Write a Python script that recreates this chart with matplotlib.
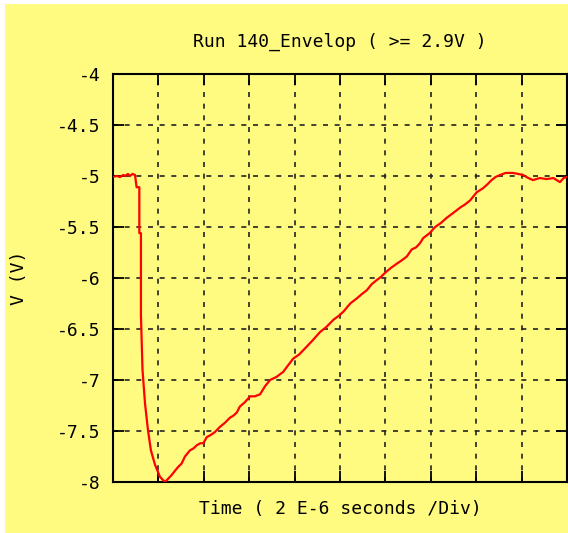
import numpy as np
import matplotlib.pyplot as plt
from matplotlib.patches import Rectangle

# time in microseconds (2 us per division), envelope voltage in volts
t_us = [0.00, 0.15, 0.31, 0.45, 0.53, 0.66, 0.75, 0.86, 0.97, 1.04,
        1.16, 1.16, 1.23, 1.23, 1.30, 1.41, 1.54, 1.67, 1.85, 2.07,
        2.29, 2.42, 2.59, 2.73, 2.88, 3.02, 3.17, 3.39, 3.55, 3.69,
        3.85, 3.98, 4.13, 4.30, 4.49, 4.71, 4.93, 5.15, 5.30, 5.45,
        5.59, 5.80, 6.04, 6.25, 6.48, 6.70, 6.92, 7.20, 7.50, 7.70,
        7.94, 8.20, 8.46, 8.80, 9.12, 9.40, 9.71, 9.95, 10.15, 10.45,
        10.74, 10.95, 11.18, 11.40, 11.62, 11.80, 11.98, 12.25, 12.50, 12.70,
        12.94, 13.16, 13.35, 13.52, 13.66, 13.95, 14.19, 14.45, 14.70, 15.00,
        15.29, 15.50, 15.73, 16.02, 16.30, 16.50, 16.68, 16.85, 17.05, 17.30,
        17.62, 17.85, 18.06, 18.30, 18.50, 18.80, 19.10, 19.40, 19.69, 19.85,
        19.99]
v_env = [-5.01, -5.00, -5.01, -4.99, -5.00, -4.98, -5.00, -4.98, -4.99, -5.11,
         -5.11, -5.56, -5.56, -6.36, -6.90, -7.23, -7.49, -7.69, -7.83, -7.95,
         -8.00, -7.97, -7.93, -7.89, -7.85, -7.82, -7.75, -7.69, -7.67, -7.64,
         -7.62, -7.62, -7.56, -7.54, -7.51, -7.46, -7.42, -7.37, -7.35, -7.32,
         -7.26, -7.22, -7.16, -7.16, -7.14, -7.06, -7.00, -6.97, -6.92, -6.86,
         -6.79, -6.75, -6.69, -6.61, -6.53, -6.48, -6.41, -6.37, -6.33, -6.25,
         -6.20, -6.16, -6.12, -6.06, -6.02, -5.99, -5.95, -5.90, -5.86, -5.83,
         -5.79, -5.72, -5.70, -5.66, -5.61, -5.56, -5.50, -5.46, -5.41, -5.36,
         -5.31, -5.28, -5.24, -5.16, -5.12, -5.08, -5.04, -5.01, -4.99, -4.97,
         -4.97, -4.98, -4.99, -5.02, -5.04, -5.02, -5.03, -5.02, -5.06, -5.02,
         -5.01]

y_ticks = [-4, -4.5, -5, -5.5, -6, -6.5, -7, -7.5, -8]
y_ticklabels = ['-4', '-4.5', '-5', '-5.5', '-6', '-6.5', '-7', '-7.5', '-8']

bg = '#fffb80'
mono = 'DejaVu Sans Mono'
fsz = 13

fig = plt.figure(figsize=(5.68, 5.33), dpi=100)
fig.patch.set_facecolor('white')
fig.patches.append(Rectangle((5 / 568, 0), 1, 1 - 4 / 533, transform=fig.transFigure,
                             facecolor=bg, edgecolor='none', zorder=-10))

ax = fig.add_axes([113 / 568, 51 / 533, 454 / 568, 408 / 533])
ax.set_facecolor(bg)

ax.plot(t_us, v_env, color='red', lw=1.6, zorder=3)

ax.set_xlim(0, 20)
ax.set_ylim(-8, -4)
ax.set_xticks(np.arange(0, 21, 2))
ax.set_xticklabels([])
ax.set_yticks(y_ticks)
ax.set_yticklabels(y_ticklabels, fontfamily=mono, fontsize=fsz)

ax.tick_params(direction='in', length=8, width=1.3, top=True, right=True, pad=9)
ax.grid(True, color='#222222', linestyle=(0, (3, 4)), lw=1.2)

for sp in ax.spines.values():
    sp.set_linewidth(1.5)

ax.set_ylabel('V (V)', fontfamily=mono, fontsize=fsz)
ax.yaxis.set_label_coords(-0.188, 0.5)
ax.set_xlabel('Time ( 2 E-6 seconds /Div)', fontfamily=mono, fontsize=fsz, labelpad=4)
fig.text(340 / 568, 1 - 42 / 533, 'Run 140_Envelop ( >= 2.9V )', fontfamily=mono,
         fontsize=fsz, ha='center', va='center')

fig.savefig('out.png', dpi=100, facecolor=fig.get_facecolor())
